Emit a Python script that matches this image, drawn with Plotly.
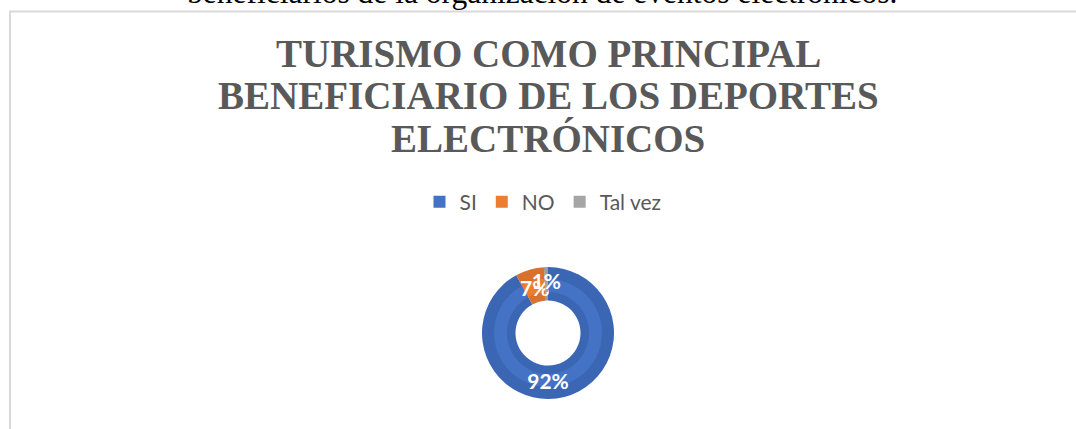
import plotly.graph_objects as go

# ---- data ----
labels = ["SI", "NO", "Tal vez"]
values = [92, 7, 1]
colors_light = ["#4472C4", "#ED7D31", "#A5A5A5"]
colors_dark = ["#3B66B3", "#D8712D", "#9A9A9A"]
title_lines = ["TURISMO COMO PRINCIPAL", "BENEFICIARIO DE LOS DEPORTES", "ELECTRÓNICOS"]
caption = "beneficiarios de la organización de eventos electrónicos."

W, H = 1076, 429


def py(p):
    return 1 - p / H


def px(p):
    return p / W


cx, cy = 548, 333
R_out, R_in = 66, 32.5
R_band_out, R_band_in = 54, 41


def dom(r):
    return dict(x=[px(cx - 200), px(cx + 200)], y=[py(cy + r), py(cy - r)])


fig = go.Figure()
fig.add_trace(go.Pie(
    labels=labels, values=values, hole=R_in / R_out, domain=dom(R_out),
    marker=dict(colors=colors_dark, line=dict(width=0)),
    sort=False, direction="clockwise", rotation=0,
    textinfo="none", showlegend=False, hoverinfo="skip",
))
fig.add_trace(go.Pie(
    labels=labels, values=values, hole=R_band_in / R_band_out, domain=dom(R_band_out),
    marker=dict(colors=colors_light, line=dict(width=0)),
    sort=False, direction="clockwise", rotation=0,
    texttemplate="%{percent:.0%}", textposition="inside",
    insidetextorientation="horizontal",
    textfont=dict(family="Lato", size=21, color="white", weight="bold"),
    showlegend=True,
))

annotations = []
for i, line in enumerate(title_lines):
    annotations.append(dict(
        text=f"<b>{line}</b>", xref="paper", yref="paper",
        x=px(548), y=py(54 + 42 * i), xanchor="center", yanchor="middle",
        showarrow=False,
        font=dict(family="Liberation Serif", size=39, color="#595959"),
    ))
annotations.append(dict(
    text=caption, xref="paper", yref="paper",
    x=px(542), y=py(-7.5), xanchor="center", yanchor="middle", showarrow=False,
    font=dict(family="Liberation Serif", size=31.5, color="black"),
))

fig.update_layout(
    width=W, height=H,
    margin=dict(l=0, r=0, t=0, b=0),
    paper_bgcolor="white", plot_bgcolor="white",
    annotations=annotations,
    uniformtext=dict(minsize=21, mode="show"),
    legend=dict(
        orientation="h", x=px(543), xanchor="center", y=py(202), yanchor="middle",
        font=dict(family="Lato", size=21, color="#595959"),
        itemwidth=30, traceorder="normal",
    ),
    shapes=[dict(
        type="rect", xref="paper", yref="paper",
        x0=px(10), x1=1.2, y0=-0.2, y1=py(11.5),
        line=dict(color="#D9D9D9", width=2), layer="below",
    )],
)

fig.write_html(
    "out.html",
    config={"displayModeBar": False},
    post_script="document.body.style.margin='0px';document.body.style.overflow='hidden';",
)
